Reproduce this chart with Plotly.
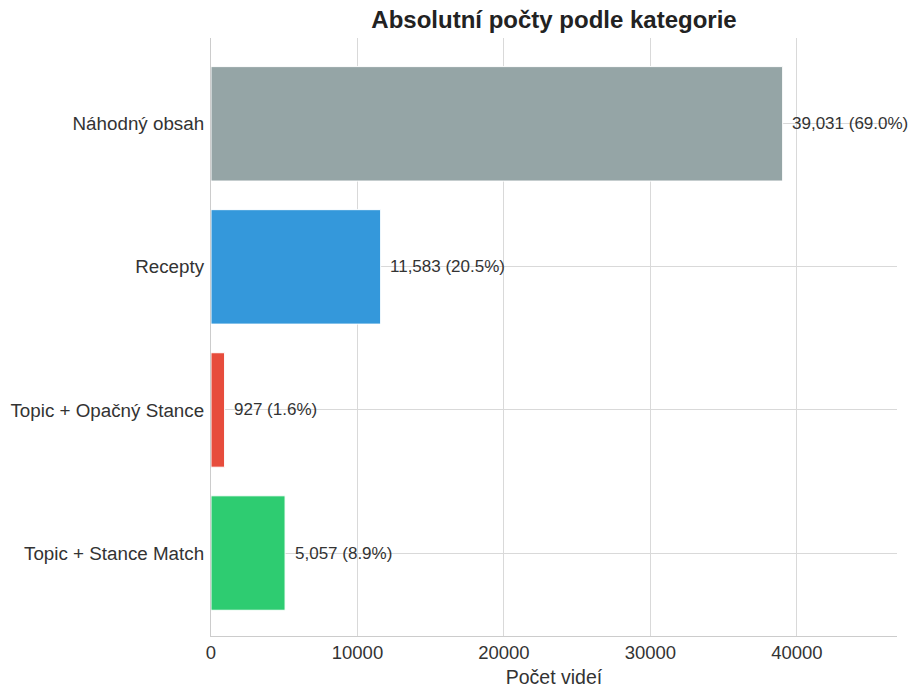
import plotly.graph_objects as go

# Category counts (bottom to top order as drawn)
categories = ["Topic + Stance Match", "Topic + Opačný Stance", "Recepty", "Náhodný obsah"]
counts = [5057, 927, 11583, 39031]
colors = ["#2ecc71", "#e74c3c", "#3498db", "#95a5a6"]
x_ticks = [0, 10000, 20000, 30000, 40000]

total = sum(counts)
labels = [f"{c:,} ({c / total * 100:.1f}%)" for c in counts]

FONT = "Liberation Sans, Arial, sans-serif"
TEXT = "#333333"

fig = go.Figure()
fig.add_trace(go.Bar(
    y=categories,
    x=counts,
    orientation="h",
    width=0.8,
    marker=dict(color=colors, line=dict(color="white", width=1)),
    hoverinfo="skip",
))

# value labels to the right of each bar
offset = max(counts) * 0.013
for cat, c, lab in zip(categories, counts, labels):
    fig.add_annotation(
        x=c + offset, y=cat, text=lab, showarrow=False,
        xanchor="left", yanchor="middle",
        font=dict(family=FONT, size=17, color=TEXT),
    )

fig.update_layout(
    width=916, height=688,
    margin=dict(l=211, r=19, t=38, b=52),
    paper_bgcolor="white", plot_bgcolor="white",
    showlegend=False,
    bargap=0.2,
    title=dict(
        text="<b>Absolutní počty podle kategorie</b>",
        x=0.5, xref="paper", xanchor="center",
        y=0.971, yref="container", yanchor="middle",
        font=dict(family=FONT, size=24, color="#222222"),
    ),
    font=dict(family=FONT, color=TEXT),
)

fig.update_xaxes(
    automargin=False,
    range=[0, max(counts) * 1.2],
    tickvals=x_ticks,
    ticktext=[str(v) for v in x_ticks],
    tickfont=dict(size=18.5, color=TEXT),
    showgrid=True, gridcolor="#d9d9d9", gridwidth=1,
    showline=True, linecolor="#cccccc", linewidth=1.2,
    zeroline=False, ticks="", ticklen=0,
    title=dict(text="Počet videí", font=dict(size=19.5, color=TEXT), standoff=8),
)
fig.update_yaxes(
    automargin=False,
    range=[-0.58, 3.60],
    tickfont=dict(size=18.8, color=TEXT),
    showgrid=True, gridcolor="#d9d9d9", gridwidth=1,
    showline=True, linecolor="#cccccc", linewidth=1.2,
    zeroline=False, ticks="", ticklabelstandoff=2,
)

fig.write_html("out.html")
